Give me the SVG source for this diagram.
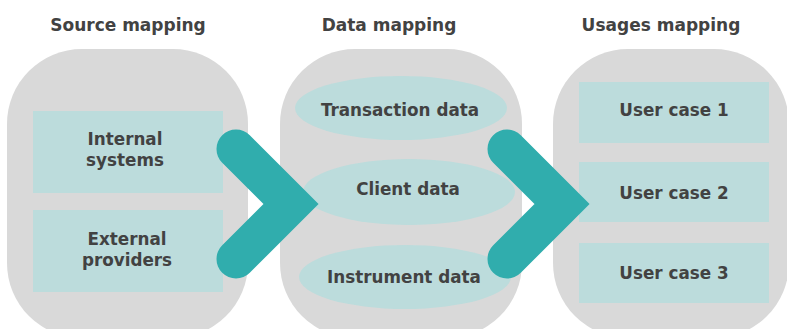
<svg xmlns="http://www.w3.org/2000/svg" width="787" height="329" viewBox="0 0 787 329">
  <style>
    .panel { fill: #D9D9D9; }
    .box { fill: #BCDCDC; }
    .title { font-family: "DejaVu Sans", "Open Sans", sans-serif; font-weight: 700; font-size: 17px; fill: #424242; text-anchor: middle; }
    .lbl { font-family: "DejaVu Sans", "Open Sans", sans-serif; font-weight: 700; font-size: 16.8px; fill: #424242; text-anchor: middle; }
    .chev { fill: none; stroke: #30ADAD; stroke-width: 39; stroke-linecap: round; stroke-linejoin: miter; stroke-miterlimit: 4; }
  </style>
  <rect width="787" height="329" fill="#FFFFFF"/>

  <g id="source-mapping">
    <text class="title" x="128" y="31">Source mapping</text>
    <rect class="panel" x="7" y="49" width="241" height="289" rx="75" ry="75"/>
  </g>
  <g id="data-mapping">
    <text class="title" x="389" y="31">Data mapping</text>
    <rect class="panel" x="280" y="49" width="242" height="289" rx="75" ry="75"/>
  </g>
  <g id="usages-mapping">
    <text class="title" x="661" y="31">Usages mapping</text>
    <rect class="panel" x="553" y="49" width="236" height="289" rx="75" ry="75"/>
  </g>

  <g id="internal-systems">
    <rect class="box" x="33" y="111" width="190" height="82"/>
    <text class="lbl" x="125" y="145">Internal</text>
    <text class="lbl" x="125" y="166">systems</text>
  </g>
  <g id="external-providers">
    <rect class="box" x="33" y="210" width="190" height="82"/>
    <text class="lbl" x="127" y="245">External</text>
    <text class="lbl" x="127" y="266">providers</text>
  </g>

  <g id="transaction-data">
    <ellipse class="box" cx="401" cy="108" rx="106" ry="32"/>
    <text class="lbl" x="400" y="116">Transaction data</text>
  </g>
  <g id="client-data">
    <ellipse class="box" cx="409" cy="192" rx="106" ry="33"/>
    <text class="lbl" x="408" y="195">Client data</text>
  </g>
  <g id="instrument-data">
    <ellipse class="box" cx="405" cy="277" rx="106" ry="32"/>
    <text class="lbl" x="404" y="283">Instrument data</text>
  </g>

  <g id="user-case-1">
    <rect class="box" x="579" y="82" width="190" height="61"/>
    <text class="lbl" x="674" y="116">User case 1</text>
  </g>
  <g id="user-case-2">
    <rect class="box" x="579" y="162" width="190" height="60"/>
    <text class="lbl" x="674" y="199">User case 2</text>
  </g>
  <g id="user-case-3">
    <rect class="box" x="579" y="243" width="190" height="60"/>
    <text class="lbl" x="674" y="279">User case 3</text>
  </g>

  <g id="connectors">
    <polyline class="chev" points="236,149 291,204 236,259"/>
    <polyline class="chev" points="507,149 562,204 507,259"/>
  </g>
</svg>
